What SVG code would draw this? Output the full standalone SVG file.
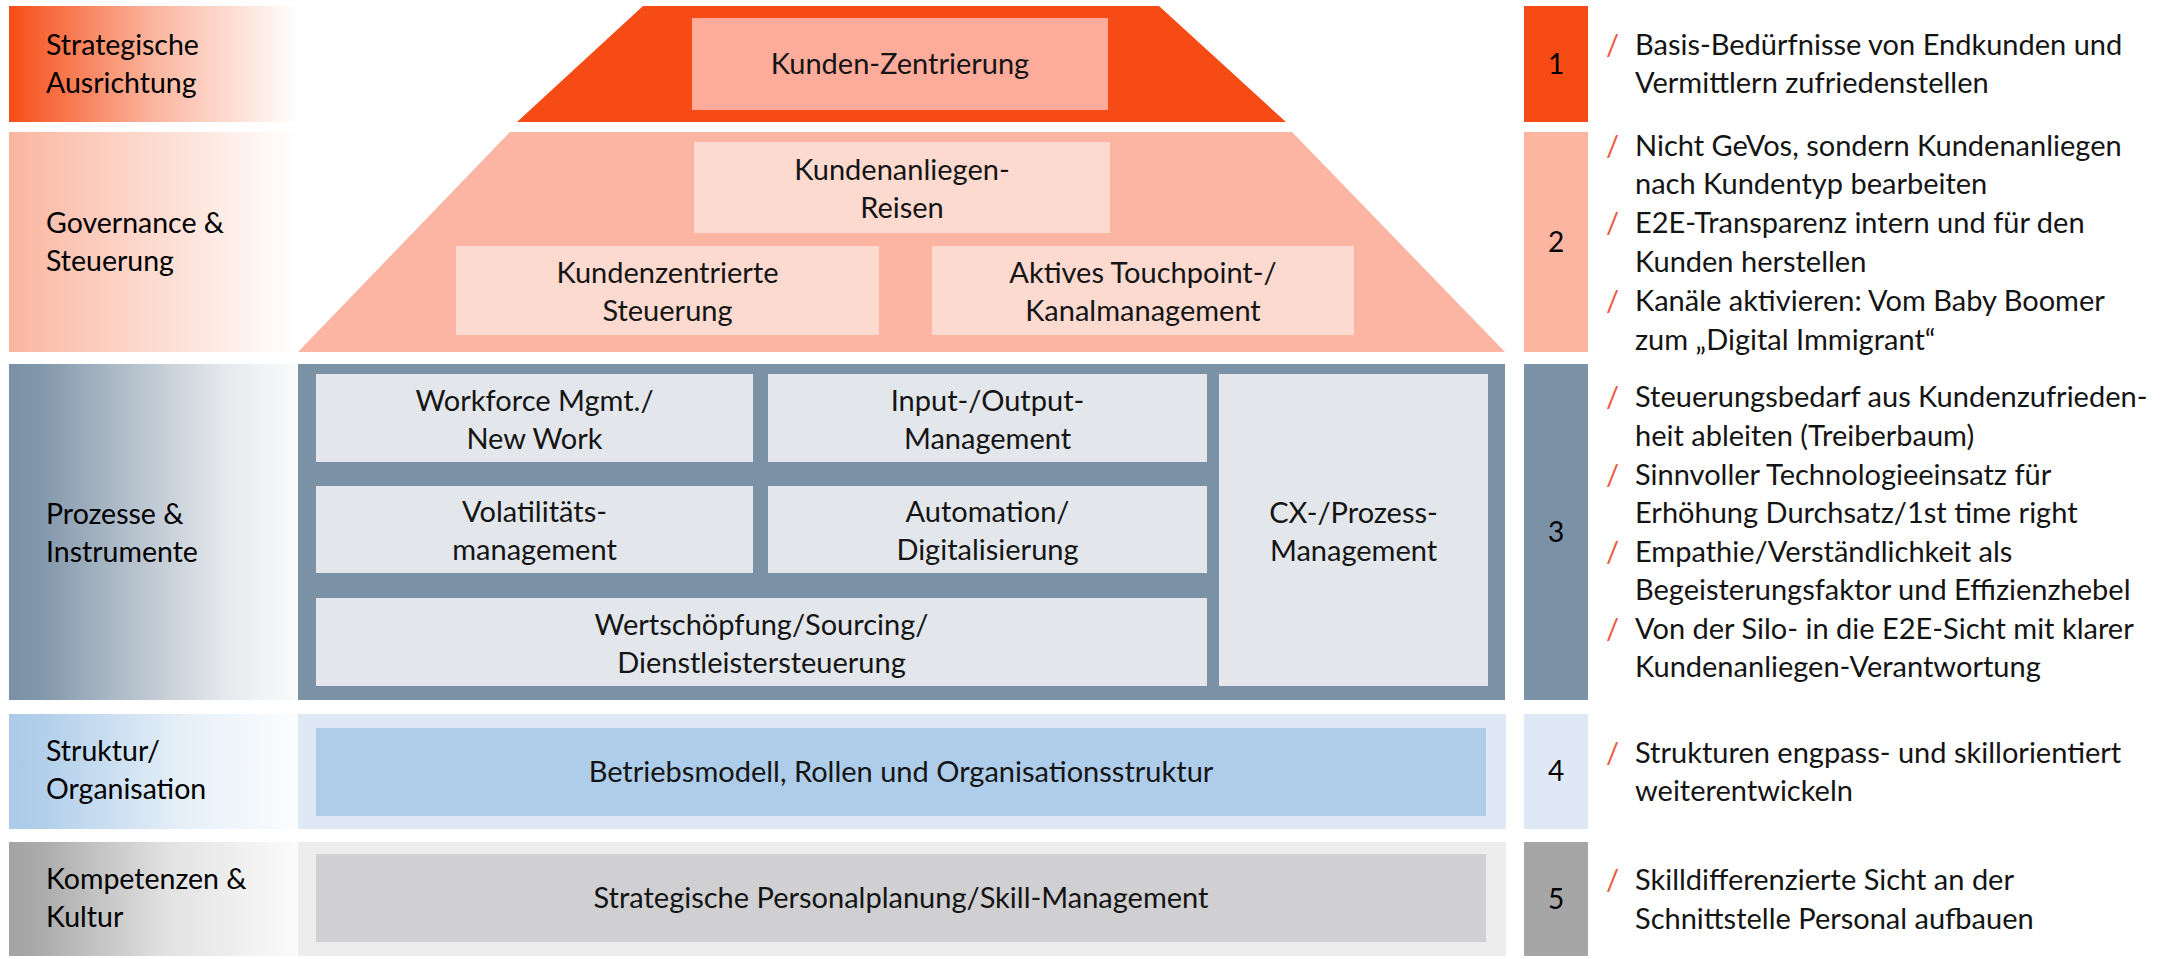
<svg xmlns="http://www.w3.org/2000/svg" width="2176" height="959" viewBox="0 0 2176 959">
  <defs>
    <linearGradient id="gOrange" x1="0" y1="0" x2="1" y2="0">
      <stop offset="0" stop-color="#F74B16"/>
      <stop offset="0.06" stop-color="#F75A28"/>
      <stop offset="0.5" stop-color="#FBB59E"/>
      <stop offset="1" stop-color="#FFFFFF"/>
    </linearGradient>
    <linearGradient id="gSalmon" x1="0" y1="0" x2="1" y2="0">
      <stop offset="0" stop-color="#FBB5A0"/>
      <stop offset="0.08" stop-color="#FBBCA8"/>
      <stop offset="1" stop-color="#FFFFFF"/>
    </linearGradient>
    <linearGradient id="gSlate" x1="0" y1="0" x2="1" y2="0">
      <stop offset="0" stop-color="#7B91A6"/>
      <stop offset="0.1" stop-color="#8196AA"/>
      <stop offset="0.45" stop-color="#B9C4CF"/>
      <stop offset="0.75" stop-color="#E6E9ED"/>
      <stop offset="1" stop-color="#FAFBFB"/>
    </linearGradient>
    <linearGradient id="gBlue" x1="0" y1="0" x2="1" y2="0">
      <stop offset="0" stop-color="#AACAE8"/>
      <stop offset="0.1" stop-color="#B0CEEA"/>
      <stop offset="0.6" stop-color="#E6EFF8"/>
      <stop offset="1" stop-color="#FCFDFE"/>
    </linearGradient>
    <linearGradient id="gGray" x1="0" y1="0" x2="1" y2="0">
      <stop offset="0" stop-color="#A3A3A3"/>
      <stop offset="0.1" stop-color="#AAAAAA"/>
      <stop offset="0.55" stop-color="#E2E2E2"/>
      <stop offset="1" stop-color="#FBFBFB"/>
    </linearGradient>
  </defs>
  <style>
    text { font-family: Lato, "Liberation Sans", sans-serif; font-size: 29px; fill: #141414; }
    .c { text-anchor: middle; }
    .lbl { font-size: 28.5px; fill: #000; }
    .num { font-size: 28px; text-anchor: middle; fill: #000; }
    .bl { font-size: 29px; }
    .sl { fill: #EA5A40; font-size: 29px; }
    .tr1 { fill: #F74B16; }
    .bx1 { fill: #FDAC9C; }
    .tr2 { fill: #FBB5A2; }
    .bx2 { fill: #FDDAD0; }
    .pn3 { fill: #7B91A6; }
    .bx3 { fill: #E3E7EC; }
    .pn4 { fill: #DEE9F5; }
    .bx4 { fill: #AECDEA; }
    .pn5 { fill: #EDEDED; }
    .bx5 { fill: #D0D0D2; }
  </style>

  <!-- Left-hand layer labels -->
  <g id="label-1">
    <rect x="9" y="6" width="289" height="116" fill="url(#gOrange)"/>
    <text class="lbl" x="46" y="55">Strategische</text>
    <text class="lbl" x="46" y="93">Ausrichtung</text>
  </g>
  <g id="label-2">
    <rect x="9" y="132" width="289" height="220" fill="url(#gSalmon)"/>
    <text class="lbl" x="46" y="233">Governance &amp;</text>
    <text class="lbl" x="46" y="271">Steuerung</text>
  </g>
  <g id="label-3">
    <rect x="9" y="364" width="289" height="336" fill="url(#gSlate)"/>
    <text class="lbl" x="46" y="524">Prozesse &amp;</text>
    <text class="lbl" x="46" y="562">Instrumente</text>
  </g>
  <g id="label-4">
    <rect x="9" y="714" width="289" height="115" fill="url(#gBlue)"/>
    <text class="lbl" x="46" y="761">Struktur/</text>
    <text class="lbl" x="46" y="799">Organisation</text>
  </g>
  <g id="label-5">
    <rect x="9" y="842" width="289" height="114" fill="url(#gGray)"/>
    <text class="lbl" x="46" y="889">Kompetenzen &amp;</text>
    <text class="lbl" x="46" y="927">Kultur</text>
  </g>

  <!-- Layer 1: strategic roof -->
  <g id="layer-1">
    <polygon class="tr1" points="643,6 1159,6 1286,122 517,122"/>
    <g id="kunden-zentrierung">
      <rect class="bx1" x="692" y="18" width="416" height="92"/>
      <text class="c" x="900" y="74">Kunden-Zentrierung</text>
    </g>
  </g>

  <!-- Layer 2: governance -->
  <g id="layer-2">
    <polygon class="tr2" points="510,132 1292,132 1505,352 298,352"/>
    <g id="kundenanliegen-reisen">
      <rect class="bx2" x="694" y="142" width="416" height="91"/>
      <text class="c" x="902" y="180">Kundenanliegen-</text>
      <text class="c" x="902" y="218">Reisen</text>
    </g>
    <g id="kundenzentrierte-steuerung">
      <rect class="bx2" x="456" y="246" width="423" height="89"/>
      <text class="c" x="667.5" y="283">Kundenzentrierte</text>
      <text class="c" x="667.5" y="321">Steuerung</text>
    </g>
    <g id="touchpoint-kanalmanagement">
      <rect class="bx2" x="932" y="246" width="422" height="89"/>
      <text class="c" x="1143" y="283">Aktives Touchpoint-/</text>
      <text class="c" x="1143" y="321">Kanalmanagement</text>
    </g>
  </g>

  <!-- Layer 3: processes and instruments -->
  <g id="layer-3">
    <rect class="pn3" x="298" y="364" width="1207" height="336"/>
    <g id="workforce">
      <rect class="bx3" x="316" y="374" width="437" height="88"/>
      <text class="c" x="534.5" y="411">Workforce Mgmt./</text>
      <text class="c" x="534.5" y="449">New Work</text>
    </g>
    <g id="input-output">
      <rect class="bx3" x="768" y="374" width="439" height="88"/>
      <text class="c" x="987.5" y="411">Input-/Output-</text>
      <text class="c" x="987.5" y="449">Management</text>
    </g>
    <g id="volatilitaet">
      <rect class="bx3" x="316" y="486" width="437" height="87"/>
      <text class="c" x="534.5" y="522">Volatilitäts-</text>
      <text class="c" x="534.5" y="560">management</text>
    </g>
    <g id="automation">
      <rect class="bx3" x="768" y="486" width="439" height="87"/>
      <text class="c" x="987.5" y="522">Automation/</text>
      <text class="c" x="987.5" y="560">Digitalisierung</text>
    </g>
    <g id="wertschoepfung">
      <rect class="bx3" x="316" y="598" width="891" height="88"/>
      <text class="c" x="761.5" y="635">Wertschöpfung/Sourcing/</text>
      <text class="c" x="761.5" y="673">Dienstleistersteuerung</text>
    </g>
    <g id="cx-prozess">
      <rect class="bx3" x="1219" y="374" width="269" height="312"/>
      <text class="c" x="1353.5" y="523">CX-/Prozess-</text>
      <text class="c" x="1353.5" y="561">Management</text>
    </g>
  </g>

  <!-- Layer 4: structure -->
  <g id="layer-4">
    <rect class="pn4" x="298" y="714" width="1208" height="115"/>
    <g id="betriebsmodell">
      <rect class="bx4" x="316" y="728" width="1170" height="88"/>
      <text class="c" x="901" y="782">Betriebsmodell, Rollen und Organisationsstruktur</text>
    </g>
  </g>

  <!-- Layer 5: competences -->
  <g id="layer-5">
    <rect class="pn5" x="298" y="842" width="1208" height="114"/>
    <g id="personalplanung">
      <rect class="bx5" x="316" y="854" width="1170" height="88"/>
      <text class="c" x="901" y="908">Strategische Personalplanung/Skill-Management</text>
    </g>
  </g>

  <!-- Layer numbers -->
  <g id="number-1">
    <rect x="1524" y="6" width="64" height="116" fill="#F74B16"/>
    <text class="num" x="1556" y="74">1</text>
  </g>
  <g id="number-2">
    <rect x="1524" y="132" width="64" height="220" fill="#FBB5A0"/>
    <text class="num" x="1556" y="252">2</text>
  </g>
  <g id="number-3">
    <rect x="1524" y="364" width="64" height="336" fill="#7B91A6"/>
    <text class="num" x="1556" y="542">3</text>
  </g>
  <g id="number-4">
    <rect x="1524" y="714" width="64" height="115" fill="#DEE9F5"/>
    <text class="num" x="1556" y="781">4</text>
  </g>
  <g id="number-5">
    <rect x="1524" y="842" width="64" height="114" fill="#A6A6A6"/>
    <text class="num" x="1556" y="909">5</text>
  </g>

  <!-- Bullet notes per layer -->
  <g id="notes-1">
    <text class="sl" x="1606" y="55">/</text>
    <text class="bl" x="1635" y="55">Basis-Bedürfnisse von Endkunden und</text>
    <text class="bl" x="1635" y="93">Vermittlern zufriedenstellen</text>
  </g>
  <g id="notes-2">
    <text class="sl" x="1606" y="156">/</text>
    <text class="bl" x="1635" y="156">Nicht GeVos, sondern Kundenanliegen</text>
    <text class="bl" x="1635" y="194">nach Kundentyp bearbeiten</text>
    <text class="sl" x="1606" y="233">/</text>
    <text class="bl" x="1635" y="233">E2E-Transparenz intern und für den</text>
    <text class="bl" x="1635" y="272">Kunden herstellen</text>
    <text class="sl" x="1606" y="311">/</text>
    <text class="bl" x="1635" y="311">Kanäle aktivieren: Vom Baby Boomer</text>
    <text class="bl" x="1635" y="350">zum „Digital Immigrant“</text>
  </g>
  <g id="notes-3">
    <text class="sl" x="1606" y="407">/</text>
    <text class="bl" x="1635" y="407">Steuerungsbedarf aus Kundenzufrieden-</text>
    <text class="bl" x="1635" y="446">heit ableiten (Treiberbaum)</text>
    <text class="sl" x="1606" y="485">/</text>
    <text class="bl" x="1635" y="485">Sinnvoller Technologieeinsatz für</text>
    <text class="bl" x="1635" y="523">Erhöhung Durchsatz/1st time right</text>
    <text class="sl" x="1606" y="562">/</text>
    <text class="bl" x="1635" y="562">Empathie/Verständlichkeit als</text>
    <text class="bl" x="1635" y="600">Begeisterungsfaktor und Effizienzhebel</text>
    <text class="sl" x="1606" y="639">/</text>
    <text class="bl" x="1635" y="639">Von der Silo- in die E2E-Sicht mit klarer</text>
    <text class="bl" x="1635" y="677">Kundenanliegen-Verantwortung</text>
  </g>
  <g id="notes-4">
    <text class="sl" x="1606" y="763">/</text>
    <text class="bl" x="1635" y="763">Strukturen engpass- und skillorientiert</text>
    <text class="bl" x="1635" y="801">weiterentwickeln</text>
  </g>
  <g id="notes-5">
    <text class="sl" x="1606" y="890">/</text>
    <text class="bl" x="1635" y="890">Skilldifferenzierte Sicht an der</text>
    <text class="bl" x="1635" y="929">Schnittstelle Personal aufbauen</text>
  </g>
</svg>
